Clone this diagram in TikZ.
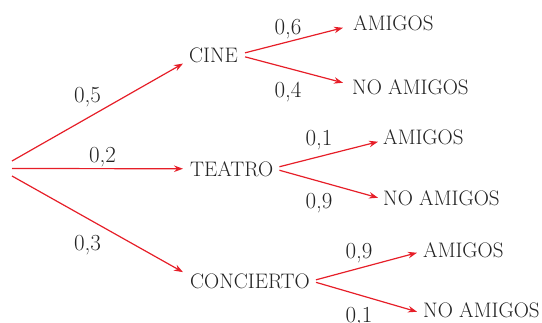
\documentclass[tikz,border=0pt]{standalone}
\usetikzlibrary{arrows.meta}
\definecolor{branchred}{RGB}{230,30,40}
\definecolor{inkgray}{RGB}{35,35,35}
\begin{document}
\begin{tikzpicture}[x=1pt,y=-1pt,
  branch/.style={draw=branchred,line width=1.2pt,-{Stealth[length=9pt,width=6.5pt]}},
  outcome/.style={anchor=base west,inner sep=0pt,text=inkgray,font=\fontsize{21}{24}\selectfont},
  prob/.style={anchor=base,inner sep=0pt,text=inkgray,font=\fontsize{23}{26}\selectfont}]
\clip (0,0) rectangle (542,322);
\useasboundingbox (0,0) rectangle (542,322);

% root of the tree
\coordinate (root) at (12,168.5);

% first level
\node[outcome] (cine) at (189,62) {CINE};
\node[outcome] (teatro) at (190,176) {TEATRO};
\node[outcome] (concierto) at (190,288) {CONCIERTO};

% second level
\node[outcome] (am1) at (353,30) {AMIGOS};
\node[outcome] (no1) at (352,94) {NO AMIGOS};
\node[outcome] (am2) at (383,144) {AMIGOS};
\node[outcome] (no2) at (383,205) {NO AMIGOS};
\node[outcome] (am3) at (423,257) {AMIGOS};
\node[outcome] (no3) at (423,317) {NO AMIGOS};

% branches from the root
\draw[branch] ([shift={(0,-7.5)}]root) -- ([shift={(-6,1)}]cine.south west);
\draw[branch] (root) -- ([shift={(-7,0)}]teatro.west);
\draw[branch] ([shift={(0,7.5)}]root) -- ([shift={(-7,-1)}]concierto.north west);

% branches to the outcomes
\draw[branch] ([shift={(7,-2)}]cine.east) -- ([shift={(-10,5)}]am1.west);
\draw[branch] ([shift={(7,2)}]cine.east) -- ([shift={(-9,-4)}]no1.west);
\draw[branch] ([shift={(6,-2)}]teatro.east) -- ([shift={(-5,5)}]am2.west);
\draw[branch] ([shift={(6,1.5)}]teatro.east) -- ([shift={(-5,0)}]no2.west);
\draw[branch] ([shift={(6,-1)}]concierto.east) -- ([shift={(-6,3)}]am3.west);
\draw[branch] ([shift={(6,1.5)}]concierto.east) -- ([shift={(-6,2)}]no3.west);

% probabilities
\node[prob] (p5) at (87.5,102) {0,5};
\node[prob] (p2) at (102.5,162) {0,2};
\node[prob] (p3) at (87.5,250) {0,3};
\node[prob] (p6) at (288,34) {0,6};
\node[prob] (p4) at (288,97) {0,4};
\node[prob] (p1a) at (319,145) {0,1};
\node[prob] (p9a) at (319,208) {0,9};
\node[prob] (p9b) at (359,258) {0,9};
\node[prob] (p1b) at (359,322) {0,1};
\end{tikzpicture}
\end{document}
